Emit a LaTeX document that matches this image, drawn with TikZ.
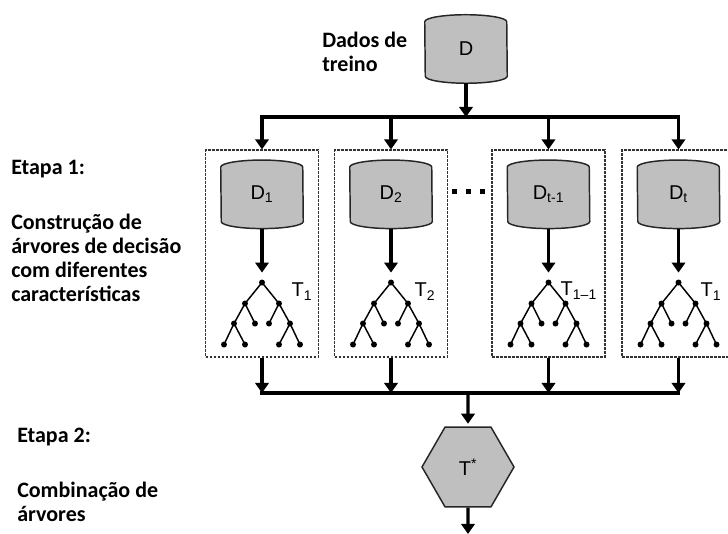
\documentclass[tikz,border=0pt]{standalone}
\usepackage{fontspec}
\setmainfont{Liberation Sans}
\newfontfamily\etapafont{Carlito}
\usetikzlibrary{arrows.meta,positioning,calc,shapes.geometric,backgrounds}

\begin{document}
\begin{tikzpicture}[x=0.75pt, y=0.75pt, font=\fontsize{15}{18}\selectfont]
% Define styles
\tikzstyle{drum} = [rectangle, inner sep=0pt, minimum width=61.5pt, minimum height=51pt]
\tikzstyle{drumline} = [draw=black!85, line width=1.1pt, fill=gray!50]
\tikzstyle{group} = [rectangle, draw=black!80, dash pattern=on 2pt off 1pt, line width=0.9pt, minimum width=84.75pt, minimum height=155.25pt]
\tikzstyle{root} = [circle, fill=black, inner sep=0pt, minimum size=4.5pt]
\tikzstyle{branch} = [line width=1.1pt]
\tikzstyle{arrow} = [-{Triangle[width=10pt,length=7.5pt]}, line width=2.3pt, draw=black]
\tikzstyle{bar} = [line width=2.3pt, line cap=rect, draw=black]
\tikzstyle{combine} = [regular polygon, regular polygon sides=6, draw=black!85, line width=1.1pt, fill=gray!50, minimum size=69pt, inner sep=0pt]
\tikzstyle{caption} = [align=left, anchor=base west, inner sep=0pt, font=\etapafont\bfseries\fontsize{16.5}{18}\selectfont]

\useasboundingbox (0,0) rectangle (728,534);

% Training data (captions sit on the baseline of their last line)
\node[drum] (Treino) at (466,485) {D};
\node[caption] (DadosTreino) at (322,462) {Dados de\\treino};

% Stage 1 groups
\node[group] (Grupo1) at (262,280.5) {};
\node[group] (Grupo2) at (391,280.5) {};
\node[group] (GrupoT1) at (548.5,280.5) {};
\node[group] (GrupoT) at (678.5,280.5) {};

% Samples
\node[drum, below=8pt of Grupo1.north] (Amostra1) {D\textsubscript{1}};
\node[drum, below=8pt of Grupo2.north] (Amostra2) {D\textsubscript{2}};
\node[drum, below=8pt of GrupoT1.north] (AmostraT1) {D\textsubscript{t-1}};
\node[drum, below=8pt of GrupoT.north] (AmostraT) {D\textsubscript{t}};

% Tree roots
\node[root, below=38pt of Amostra1] (Arvore1) {};
\node[root, below=38pt of Amostra2] (Arvore2) {};
\node[root, below=38pt of AmostraT1] (ArvoreT1) {};
\node[root, below=38pt of AmostraT] (ArvoreT) {};

% Tree names
\node[anchor=base west] (Rotulo1) at (287,237) {T\textsubscript{1}};
\node[anchor=base west] (Rotulo2) at (410,237) {T\textsubscript{2}};
\node[anchor=base west] (RotuloT1) at (556,238) {T\textsubscript{1–1}};
\node[anchor=base west] (RotuloT) at (696,237) {T\textsubscript{1}};

% Dots between the groups
\foreach \x in {454,468,482}
  \fill (\x-2.5,339.5) rectangle ++(5,5);

% Combined tree
\node[combine] (Combinada) at (468,67) {T\textsuperscript{*}};

% Stage captions
\node[caption] (Etapa1) at (11,359) {Etapa 1:};
\node[caption] (Construcao) at (11,232) {Construção de\\árvores de decisão\\com diferentes\\características};
\node[caption] (Etapa2) at (17,91) {Etapa 2:};
\node[caption] (Combinacao) at (17,12) {Combinação de\\árvores};

% Split and join points
\coordinate (Divide) at (466,417);
\coordinate (Junta) at (468,141);
\coordinate (Saida) at (468,0);

% Drum outlines
\begin{scope}[on background layer]
\foreach \n in {Treino,Amostra1,Amostra2,AmostraT1,AmostraT}
  \draw[drumline] ($(\n.north west)+(0,-7)$) arc[start angle=180, end angle=0, x radius=41, y radius=7]
    -- ($(\n.south east)+(0,7)$) arc[start angle=0, end angle=-180, x radius=41, y radius=7] -- cycle;
\end{scope}

% Decision trees
\foreach \n in {Arvore1,Arvore2,ArvoreT1,ArvoreT} {
  \begin{scope}[shift={(\n)}]
    \draw[branch] (-38,-62) -- (-28,-41) -- (-17,-21) -- (0,0) -- (17,-21) -- (28,-41) -- (38,-62);
    \draw[branch] (-17,-62) -- (-28,-41) (-7,-41) -- (-17,-21) (7,-41) -- (17,-21) (17,-62) -- (28,-41);
    \foreach \p in {(-17,-21),(17,-21),(-28,-41),(-7,-41),(7,-41),(28,-41),(-38,-62),(-17,-62),(17,-62),(38,-62)}
      \fill \p circle (3);
  \end{scope}
}

% Relationships (arrows)
\draw[arrow] (Treino) -- (Divide);
\draw[bar] (Grupo1.north |- Divide) -- (GrupoT.north |- Divide);
\foreach \i in {1,2,T1,T} {
  \draw[arrow] (Grupo\i.north |- Divide) -- (Grupo\i.north);
  \draw[arrow, shorten >=5pt] (Amostra\i) -- (Arvore\i);
  \draw[arrow] (Grupo\i.south) -- (Grupo\i.south |- Junta);
}
\draw[bar] (Grupo1.south |- Junta) -- (GrupoT.south |- Junta);
\draw[arrow, shorten >=2pt] (Junta) -- (Combinada);
\draw[arrow] (Combinada) -- (Saida);

\end{tikzpicture}
\end{document}
